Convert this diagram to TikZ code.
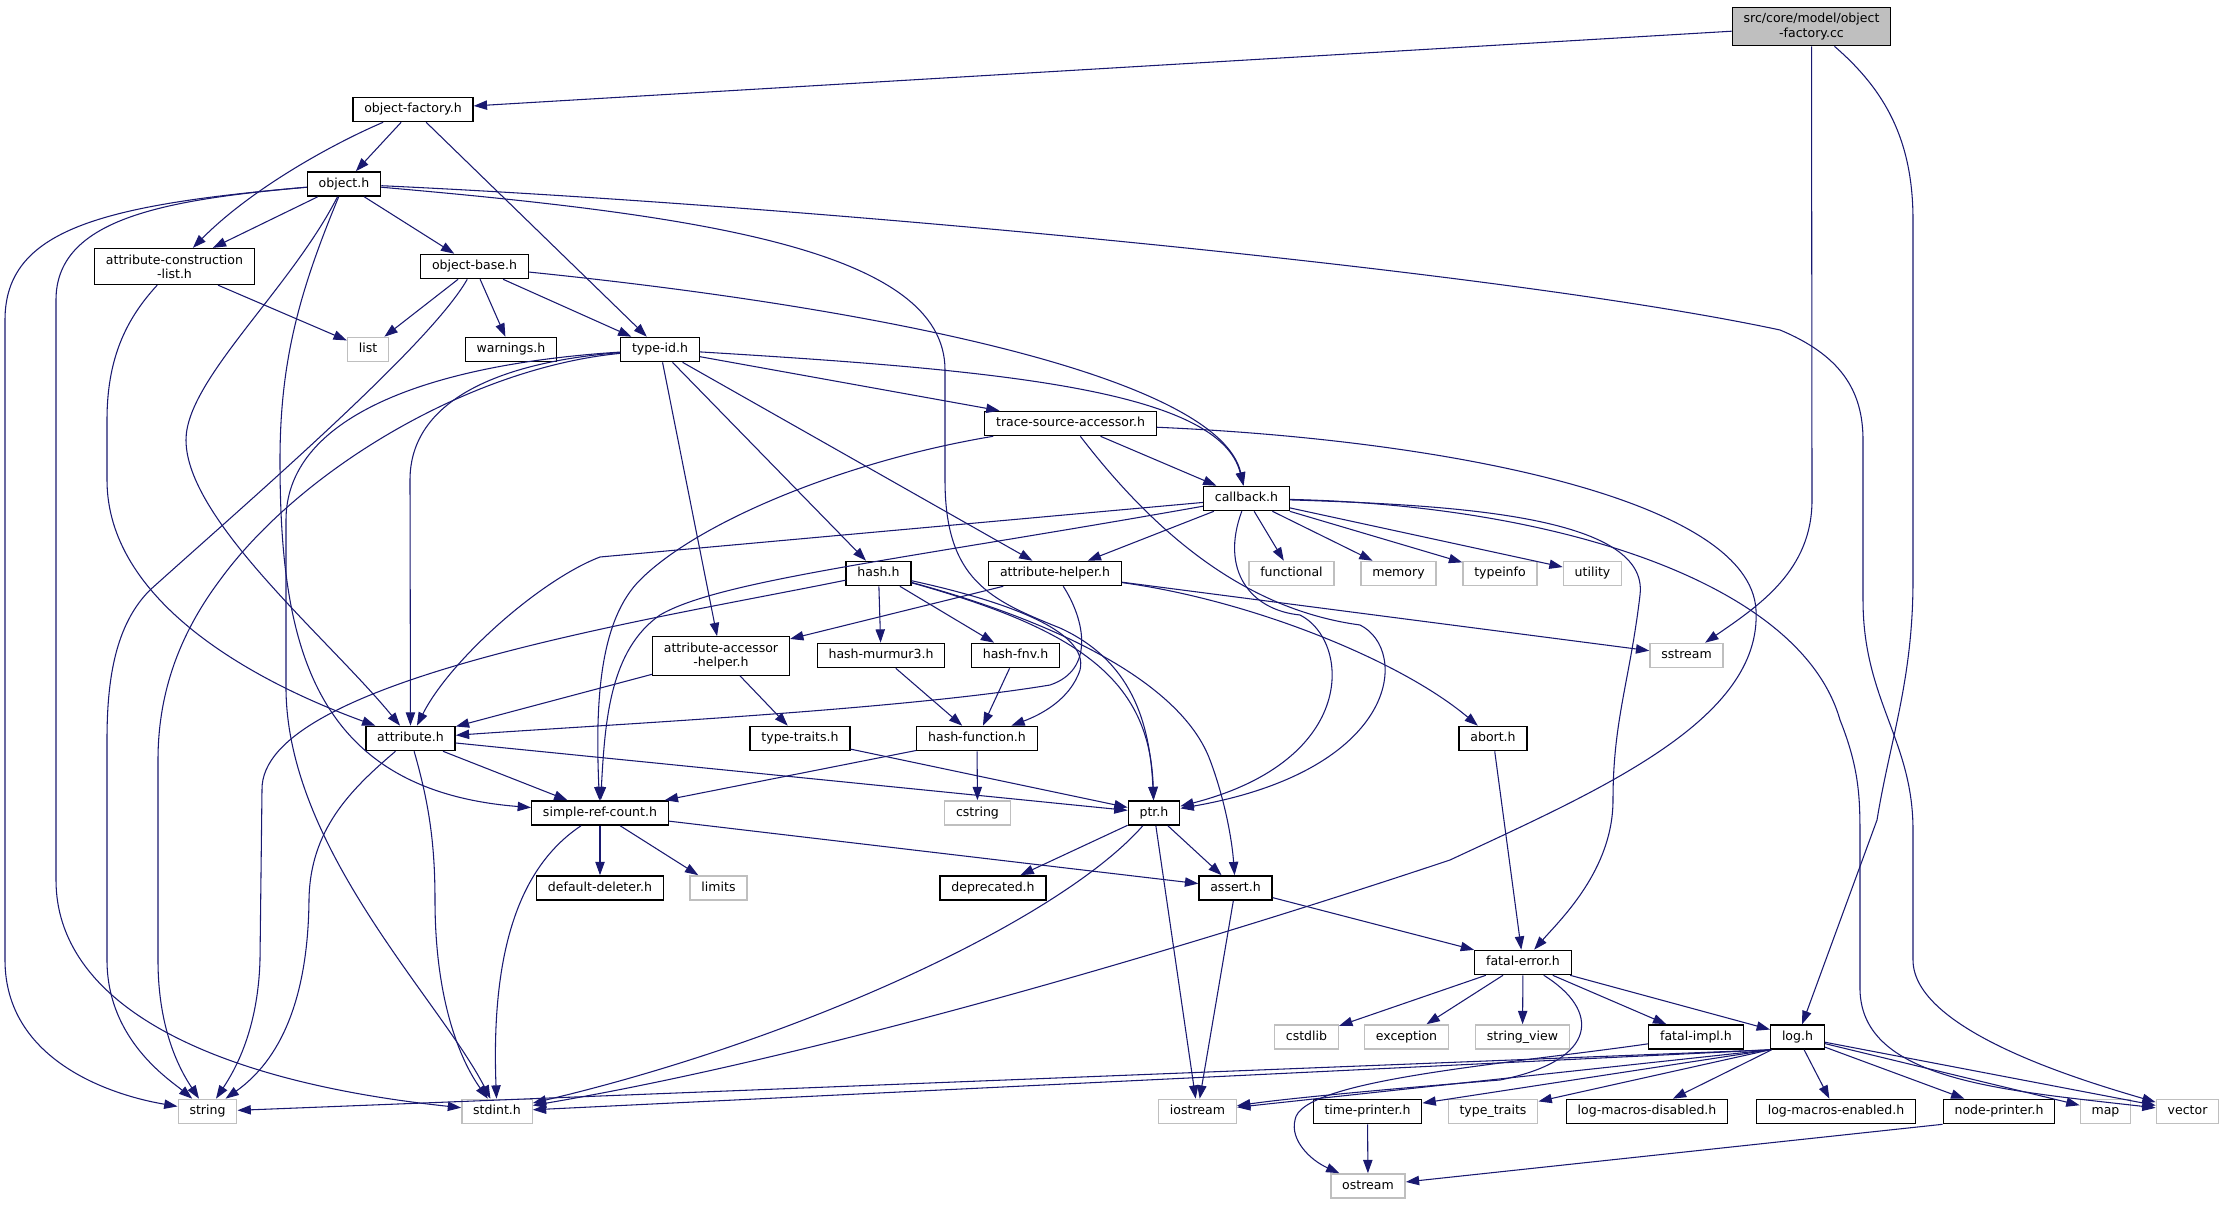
\documentclass[tikz,border=0pt]{standalone}
\usepackage{fontspec}
\setmainfont{DejaVu Sans}
\usepackage{tikz}
\usetikzlibrary{arrows.meta}
\definecolor{edgeblue}{HTML}{191970}
\definecolor{boxgray}{HTML}{BFBFBF}
\tikzset{
    file-box/.style = {draw=black, fill=white, line width=1pt, rectangle, inner xsep=8.5pt, inner ysep=4.5pt, text height=7pt, text depth=2.2pt, font=\fontsize{9.4}{10.7}\selectfont},
    sys-box/.style = {file-box, draw=boxgray},
    root-box/.style = {file-box, fill=boxgray},
    two-line/.style = {text height=, text depth=, align=center},
    inc-edge/.style = {draw=edgeblue, line width=0.8pt, -{Triangle[length=10pt, width=7pt]}},
}

\begin{document}
\begin{tikzpicture}[x=0.75pt, y=-0.75pt]
\useasboundingbox (0,0) rectangle (2224,1205);
\node[root-box, two-line] (cc) at (1811.5,26.5) {src/core/model/object\\-factory.cc};
\node[file-box] (objfactory) at (413,109.5) {object-factory.h};
\node[file-box] (object) at (344,184) {object.h};
\node[file-box, two-line] (attrconslist) at (174.5,266.5) {attribute-construction\\-list.h};
\node[file-box] (objbase) at (474.5,266.5) {object-base.h};
\node[sys-box] (list) at (368,349.5) {list};
\node[file-box] (warnings) at (511,349.5) {warnings.h};
\node[file-box] (typeid) at (660,349.5) {type-id.h};
\node[file-box] (tracesrc) at (1070.5,423.5) {trace-source-accessor.h};
\node[file-box] (callback) at (1246.5,498.5) {callback.h};
\node[file-box] (hash) at (878.5,573.5) {hash.h};
\node[file-box] (attrhelper) at (1055,573.5) {attribute-helper.h};
\node[sys-box] (functional) at (1291.5,573.5) {functional};
\node[sys-box] (memory) at (1398.5,573.5) {memory};
\node[sys-box] (typeinfo) at (1500,573.5) {typeinfo};
\node[sys-box] (utility) at (1592.5,573.5) {utility};
\node[file-box, two-line] (attraccessor) at (721,656) {attribute-accessor\\-helper.h};
\node[file-box] (murmur) at (881,655.5) {hash-murmur3.h};
\node[file-box] (fnv) at (1015.5,655.5) {hash-fnv.h};
\node[sys-box] (sstream) at (1686.5,655.5) {sstream};
\node[file-box] (attribute) at (410.5,738.5) {attribute.h};
\node[file-box] (typetraits) at (800,738.5) {type-traits.h};
\node[file-box] (hashfunc) at (977,738.5) {hash-function.h};
\node[file-box] (abort) at (1493,738.5) {abort.h};
\node[file-box] (refcount) at (600,813) {simple-ref-count.h};
\node[sys-box] (cstring) at (977.5,813) {cstring};
\node[file-box] (ptr) at (1154,813) {ptr.h};
\node[file-box] (deleter) at (600,888) {default-deleter.h};
\node[sys-box] (limits) at (718.5,888) {limits};
\node[file-box] (deprecated) at (993,888) {deprecated.h};
\node[file-box] (assert) at (1235.5,888) {assert.h};
\node[file-box] (fatalerror) at (1523,962.5) {fatal-error.h};
\node[sys-box] (cstdlib) at (1306.5,1037) {cstdlib};
\node[sys-box] (exception) at (1406.5,1037) {exception};
\node[sys-box] (stringview) at (1522.5,1037) {string\_view};
\node[file-box] (fatalimpl) at (1696,1037) {fatal-impl.h};
\node[file-box] (log) at (1797.5,1037) {log.h};
\node[sys-box] (string) at (207.5,1111.5) {string};
\node[sys-box] (stdint) at (497,1111.5) {stdint.h};
\node[sys-box] (iostream) at (1197.5,1111.5) {iostream};
\node[file-box] (timeprinter) at (1367.5,1111.5) {time-printer.h};
\node[sys-box] (typetraitsstd) at (1493,1111.5) {type\_traits};
\node[file-box] (logdisabled) at (1647,1111.5) {log-macros-disabled.h};
\node[file-box] (logenabled) at (1836,1111.5) {log-macros-enabled.h};
\node[file-box] (nodeprinter) at (1999,1111.5) {node-printer.h};
\node[sys-box] (map) at (2105.5,1111.5) {map};
\node[sys-box] (vector) at (2187.5,1111.5) {vector};
\node[sys-box] (ostream) at (1368,1186) {ostream};

\draw[inc-edge] (cc) -- (objfactory);
\draw[inc-edge] (cc) -- (1812,500) .. controls (1812,570) and (1760,605) .. (sstream);
\draw[inc-edge] (cc) .. controls (1885,90) and (1913,140) .. (1913,220) -- (1913,580) .. controls (1913,680) and (1890,740) .. (1877,820) -- (log);

\draw[inc-edge] (objfactory) -- (object);
\draw[inc-edge] (objfactory) .. controls (330,145) and (250,190) .. (attrconslist);
\draw[inc-edge] (objfactory) -- (typeid);

\draw[inc-edge] (object) -- (attrconslist);
\draw[inc-edge] (object) -- (objbase);
\draw[inc-edge] (object) .. controls (100,205) and (5,230) .. (5,320) -- (5,960) .. controls (5,1060) and (110,1095) .. (string);
\draw[inc-edge] (object) .. controls (160,200) and (56,220) .. (56,300) -- (56,880) .. controls (56,1000) and (200,1080) .. (stdint);
\draw[inc-edge] (object) .. controls (290,290) and (186,380) .. (186,440) .. controls (186,520) and (330,640) .. (attribute);
\draw[inc-edge] (object) .. controls (300,290) and (280,360) .. (280,460) .. controls (280,640) and (310,790) .. (refcount);
\draw[inc-edge] (object) .. controls (700,215) and (945,250) .. (945,370) -- (945,480) .. controls (945,580) and (990,600) .. (1060,628) .. controls (1130,660) and (1150,720) .. (ptr);
\draw[inc-edge] (object) .. controls (800,205) and (1500,270) .. (1780,330) .. controls (1840,355) and (1863,390) .. (1863,440) -- (1863,600) .. controls (1863,700) and (1913,740) .. (1913,830) -- (1913,960) .. controls (1913,1030) and (2080,1080) .. (vector);

\draw[inc-edge] (attrconslist) -- (list);
\draw[inc-edge] (attrconslist) .. controls (125,320) and (107,360) .. (107,420) -- (107,480) .. controls (107,600) and (250,680) .. (attribute);

\draw[inc-edge] (objbase) -- (list);
\draw[inc-edge] (objbase) -- (warnings);
\draw[inc-edge] (objbase) -- (typeid);
\draw[inc-edge] (objbase) .. controls (430,345) and (250,500) .. (150,590) .. controls (115,625) and (107,680) .. (107,740) -- (107,960) .. controls (107,1040) and (170,1080) .. (string);
\draw[inc-edge] (objbase) .. controls (900,310) and (1220,380) .. (callback);

\draw[inc-edge] (typeid) -- (tracesrc);
\draw[inc-edge] (typeid) .. controls (1000,370) and (1220,390) .. (callback);
\draw[inc-edge] (typeid) .. controls (500,362) and (410,400) .. (410,480) -- (attribute);
\draw[inc-edge] (typeid) .. controls (470,368) and (300,470) .. (220,580) .. controls (175,640) and (158,700) .. (158,760) -- (158,960) .. controls (158,1030) and (180,1070) .. (string);
\draw[inc-edge] (typeid) .. controls (420,365) and (286,420) .. (286,520) -- (286,690) .. controls (288,850) and (440,1000) .. (stdint);
\draw[inc-edge] (typeid) -- (hash);
\draw[inc-edge] (typeid) -- (attraccessor);
\draw[inc-edge] (typeid) -- (attrhelper);

\draw[inc-edge] (tracesrc) -- (callback);
\draw[inc-edge] (tracesrc) .. controls (850,460) and (700,520) .. (640,580) .. controls (600,620) and (595,700) .. (refcount);
\draw[inc-edge] (tracesrc) .. controls (1160,540) and (1250,610) .. (1360,625) .. controls (1410,650) and (1400,770) .. (ptr);
\draw[inc-edge] (tracesrc) .. controls (1450,440) and (1750,500) .. (1756,610) .. controls (1762,720) and (1600,790) .. (1450,860) .. controls (1150,960) and (800,1060) .. (stdint);

\draw[inc-edge] (callback) -- (attrhelper);
\draw[inc-edge] (callback) -- (functional);
\draw[inc-edge] (callback) -- (memory);
\draw[inc-edge] (callback) -- (typeinfo);
\draw[inc-edge] (callback) -- (utility);
\draw[inc-edge] (callback) -- (600,557) .. controls (540,580) and (450,660) .. (attribute);
\draw[inc-edge] (callback) .. controls (900,560) and (720,580) .. (660,615) .. controls (610,650) and (605,720) .. (refcount);
\draw[inc-edge] (callback) .. controls (1220,570) and (1250,610) .. (1300,615) .. controls (1350,640) and (1360,760) .. (ptr);
\draw[inc-edge] (callback) .. controls (1450,505) and (1650,515) .. (1640,595) .. controls (1630,680) and (1613,720) .. (1613,800) .. controls (1613,870) and (1560,920) .. (fatalerror);
\draw[inc-edge] (callback) .. controls (1550,505) and (1800,580) .. (1840,720) .. controls (1860,770) and (1860,800) .. (1860,840) -- (1860,990) .. controls (1862,1080) and (2000,1090) .. (vector);

\draw[inc-edge] (hash) -- (murmur);
\draw[inc-edge] (hash) -- (fnv);
\draw[inc-edge] (hash) .. controls (1000,600) and (1090,630) .. (1080,670) .. controls (1070,700) and (1040,715) .. (hashfunc);
\draw[inc-edge] (hash) .. controls (1080,630) and (1150,680) .. (ptr);
\draw[inc-edge] (hash) .. controls (1050,620) and (1180,680) .. (1210,760) .. controls (1225,800) and (1232,840) .. (assert);
\draw[inc-edge] (hash) .. controls (650,620) and (260,680) .. (262,790) -- (260,960) .. controls (258,1030) and (235,1070) .. (string);

\draw[inc-edge] (attrhelper) -- (attraccessor);
\draw[inc-edge] (attrhelper) .. controls (1085,620) and (1095,670) .. (1050,685) .. controls (900,710) and (600,725) .. (attribute);
\draw[inc-edge] (attrhelper) .. controls (1250,600) and (1400,660) .. (abort);
\draw[inc-edge] (attrhelper) -- (sstream);

\draw[inc-edge] (attraccessor) -- (attribute);
\draw[inc-edge] (attraccessor) -- (typetraits);
\draw[inc-edge] (murmur) -- (hashfunc);
\draw[inc-edge] (fnv) -- (hashfunc);
\draw[inc-edge] (typetraits) -- (ptr);
\draw[inc-edge] (hashfunc) -- (cstring);
\draw[inc-edge] (hashfunc) -- (refcount);
\draw[inc-edge] (abort) -- (fatalerror);

\draw[inc-edge] (attribute) -- (refcount);
\draw[inc-edge] (attribute) -- (ptr);
\draw[inc-edge] (attribute) .. controls (350,790) and (310,830) .. (309,900) .. controls (308,1000) and (280,1060) .. (string);
\draw[inc-edge] (attribute) .. controls (428,800) and (435,840) .. (435,900) .. controls (435,1000) and (460,1060) .. (stdint);

\draw[inc-edge] (refcount) -- (deleter);
\draw[inc-edge] (refcount) -- (limits);
\draw[inc-edge] (refcount) .. controls (530,860) and (490,930) .. (stdint);
\draw[inc-edge] (refcount) -- (assert);

\draw[inc-edge] (ptr) -- (deprecated);
\draw[inc-edge] (ptr) -- (assert);
\draw[inc-edge] (ptr) -- (iostream);
\draw[inc-edge] (ptr) .. controls (1060,920) and (800,1040) .. (stdint);

\draw[inc-edge] (assert) -- (fatalerror);
\draw[inc-edge] (assert) -- (iostream);

\draw[inc-edge] (fatalerror) -- (cstdlib);
\draw[inc-edge] (fatalerror) -- (exception);
\draw[inc-edge] (fatalerror) -- (stringview);
\draw[inc-edge] (fatalerror) -- (fatalimpl);
\draw[inc-edge] (fatalerror) -- (log);
\draw[inc-edge] (fatalerror) .. controls (1600,1010) and (1600,1060) .. (1500,1080) .. controls (1400,1088) and (1290,1098) .. (iostream);

\draw[inc-edge] (fatalimpl) .. controls (1500,1065) and (1300,1080) .. (1295,1120) .. controls (1290,1140) and (1310,1160) .. (ostream);

\draw[inc-edge] (log.south west) -- (string);
\draw[inc-edge] (log.south west) -- (stdint);
\draw[inc-edge] (log.south west) -- (iostream);
\draw[inc-edge] (log.south west) -- (timeprinter);
\draw[inc-edge] (log.south west) -- (typetraitsstd);
\draw[inc-edge] (log) -- (logdisabled);
\draw[inc-edge] (log) -- (logenabled);
\draw[inc-edge] (log) -- (nodeprinter);
\draw[inc-edge] (log) -- (map);
\draw[inc-edge] (log) -- (vector);

\draw[inc-edge] (timeprinter) -- (ostream);
\draw[inc-edge] (nodeprinter.south west) -- (ostream);
\end{tikzpicture}
\end{document}
